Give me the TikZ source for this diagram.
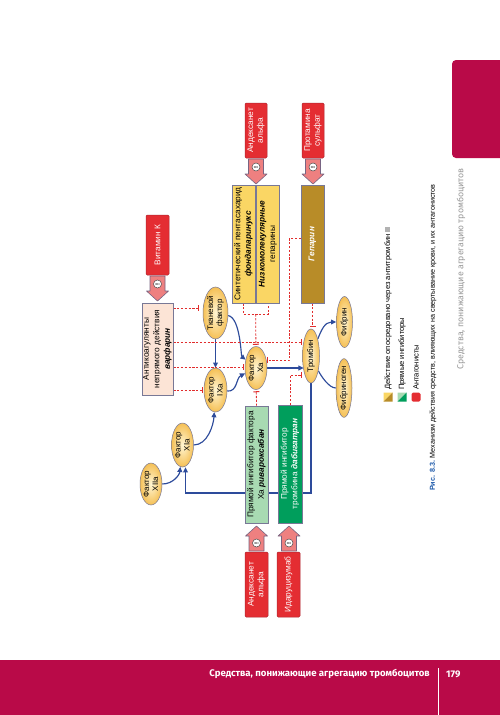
\documentclass[tikz,border=0pt]{standalone}
\usepackage{fontspec}
\setmainfont{Liberation Sans}
\newfontfamily\fira{Fira Sans}
\usetikzlibrary{arrows.meta,calc,shapes.geometric}
\pgfdeclarelayer{bg}
\pgfsetlayers{bg,main}
\definecolor{redbox}{RGB}{228,45,50}
\definecolor{redboxd}{RGB}{175,40,50}
\definecolor{arrfill}{RGB}{238,128,128}
\definecolor{arrdraw}{RGB}{120,100,130}
\definecolor{yel}{RGB}{250,214,100}
\definecolor{gold}{RGB}{184,140,40}
\definecolor{peach}{RGB}{252,228,214}
\definecolor{lgreen}{RGB}{168,218,178}
\definecolor{dgreen}{RGB}{0,158,92}
\definecolor{bordr}{RGB}{120,120,150}
\definecolor{ellin}{RGB}{255,246,212}
\definecolor{ellout}{RGB}{245,192,85}
\definecolor{flowc}{RGB}{45,75,155}
\definecolor{inhc}{RGB}{225,45,45}
\definecolor{crimson}{RGB}{185,10,72}
\definecolor{capblue}{RGB}{30,90,170}
\tikzset{
  blk/.pic={
    \draw[fill=arrfill, draw=arrdraw, line width=0.6pt, line join=round]
      (-7.5,25) -- (7.5,25) -- (7.5,10) -- (11,10) -- (0,0) -- (-11,10) -- (-7.5,10) -- cycle;
    \node[circle, draw=black!70, fill=white, line width=0.5pt, minimum size=8pt,
          inner sep=0pt, rotate=90, font=\fontsize{6}{6}\selectfont\bfseries] at (0,17) {!};
  }
}
\begin{document}
\begin{tikzpicture}[x=1pt,y=1pt,
  rot/.style={rotate=90},
  redb/.style={rot, draw=redboxd, fill=redbox, text=white, rounded corners=1.2pt,
    line width=0.5pt, minimum width=55pt, minimum height=22pt, inner sep=1pt,
    align=center, font=\fontsize{8.3}{9.6}\selectfont},
  dbox/.style={rot, draw=bordr, line width=0.6pt, inner sep=1pt, align=center,
    font=\fontsize{8.3}{10.5}\selectfont},
  fac/.style={rot, ellipse, draw=bordr, line width=0.5pt, inner color=ellin,
    outer color=ellout, inner sep=-1.5pt, align=center, font=\fontsize{8}{9}\selectfont},
  flow/.style={draw=flowc, line width=1.15pt, -{Triangle[length=5.2pt,width=4.8pt]}},
  inhl/.style={draw=inhc, line width=0.8pt, dash pattern=on 2.2pt off 1.6pt},
  inh/.style={inhl, -{Bar[width=6pt,line width=1pt]}},
  legt/.style={rot, anchor=west, inner sep=0pt, font=\fontsize{7.6}{9}\selectfont}
]
\begin{pgfonlayer}{bg}
\fill[white] (0,0) rectangle (500,-715);
\end{pgfonlayer}
\useasboundingbox (0,0) rectangle (500,-715);

% ---------- page furniture ----------
\fill[crimson, rounded corners=4pt] (452,-60) rectangle (510,-158);
\fill[crimson] (0,-660) rectangle (500,-715);
\node[anchor=east, text=white, inner sep=0pt, font=\fira\bfseries\fontsize{9.6}{10}\selectfont] (foot) at (430,-674) {Средства, понижающие агрегацию тромбоцитов};
\draw[white, line width=0.6pt] (438,-668) -- (438,-715);
\node[anchor=west, text=white, inner sep=0pt, font=\fira\bfseries\fontsize{9.6}{10}\selectfont] (pg) at (446,-674) {179};
\node[rot, anchor=west, inner sep=0pt, text=black!40, font=\fira\fontsize{8.8}{10}\selectfont] (hdr) at (461,-370) {Средства, понижающие агрегацию тромбоцитов};

% ---------- top antagonists ----------
\node[redb] (rA) at (256,-130.5) {Андексанет\\альфа};
\node[redb] (rP) at (313,-130.5) {Протамина\\сульфат};
\node[redb, minimum width=60pt, minimum height=23pt] (VK) at (157.5,-245) {Витамин К};
\pic at (256,-184) {blk};
\pic at (313,-184) {blk};
\pic at (157.5,-301) {blk};

% ---------- drug boxes ----------
\node[dbox, fill=yel, minimum width=118pt, minimum height=23pt] (F) at (243.5,-244)
  {Синтетический пентасахарид\\\textbf{\textit{фондапаринукс}}};
\node[dbox, fill=yel, minimum width=118pt, minimum height=23pt] (L) at (268,-244)
  {\bfseries\itshape Низкомолекулярные\\гепарины};
\node[dbox, fill=gold, text=white, minimum width=118pt, minimum height=23pt] (hep) at (312.5,-244)
  {\bfseries\itshape Гепарин};
\node[dbox, fill=peach, minimum width=92pt, minimum height=31pt] (W) at (157.5,-349)
  {Антикоагулянты\\непрямого действия\\\textbf{\textit{варфарин}}};
\node[dbox, fill=lgreen, minimum width=117pt, minimum height=23pt] (gR) at (256.5,-464.5)
  {Прямой ингибитор фактора\\Xa \textbf{\textit{ривароксабан}}};
\node[dbox, fill=dgreen, text=white, minimum width=118pt, minimum height=24pt] (gD) at (290,-464)
  {Прямой ингибитор\\тромбина \textbf{\textit{дабигатран}}};

% ---------- factors ----------
\node[fac, minimum width=52pt, minimum height=25pt] (TF) at (215.5,-313) {Тканевой\\фактор};
\node[fac, minimum width=44pt, minimum height=23pt] (IXa) at (215.5,-390) {Фактор\\IXa};
\node[fac, minimum width=43pt, minimum height=22pt] (Xa) at (256,-368) {Фактор\\Xa};
\node[fac, minimum width=54pt, minimum height=17pt] (Tr) at (311,-356) {Тромбин};
\node[fac, minimum width=51pt, minimum height=16pt] (Fb) at (344.5,-322) {Фибрин};
\node[fac, minimum width=53pt, minimum height=16pt] (Fg) at (344,-388) {Фибриноген};
\node[fac, minimum width=44pt, minimum height=22pt] (XIa) at (182.5,-445) {Фактор\\XIa};
\node[fac, minimum width=42pt, minimum height=22pt] (XIIa) at (151,-484) {Фактор\\XIIa};

% ---------- bottom antagonists ----------
\pic[rotate=180] at (256.5,-526) {blk};
\pic[rotate=180] at (289,-526) {blk};
\node[redb, minimum width=65pt, minimum height=23pt] (rA2) at (256.5,-584.5) {Андексанет\\альфа};
\node[redb, minimum width=65pt, minimum height=23pt] (rI) at (288.5,-584.5) {Идаруцизумаб};

\coordinate (fb) at (0,-493);

\begin{pgfonlayer}{bg}
% blue cascade
\draw[flow] (XIIa) .. controls +(22,0) and +(-3,-30) .. (XIa);
\draw[flow] (XIa) .. controls +(25,0) and +(-2,-35) .. (IXa);
\draw[flow] (IXa) .. controls +(22,-2) and +(-20,-10) .. (Xa);
\draw[flow] (TF) -- (IXa);
\draw[flow] (TF) .. controls +(25,-5) and +(-15,12) .. (Xa);
\draw[flow, shorten >=7.4pt] (Xa) -- (Xa -| Tr);
\draw[flow] (Tr) .. controls +(10,25) and +(-20,0) .. (Fb);
\draw[draw=flowc, line width=1.15pt] (Fg) .. controls +(-15,0) and +(10,-20) .. (Tr);
\draw[flow] (Tr) -- (Tr |- fb) -| ([xshift=3pt]XIa.west);
% red inhibition
\draw[inh, shorten >=4pt] (W.south |- 0,-308) -- (TF.north |- 0,-308);
\draw[inh] (W.south |- 0,-342) -- (Tr.north |- 0,-342);
\draw[inh, shorten >=1pt] (W.south |- 0,-367) -- (Xa.north |- 0,-367);
\draw[inh, shorten >=1pt] (W.south |- IXa.north) -- (IXa.north);
\draw[inhl] (F.west) -- ++(0,-11) -| (L.west);
\draw[inh, shorten >=1.5pt] ($(F.west)!.5!(L.west)+(0,-11)$) -- (Xa);
\draw[inh] ([yshift=6pt]hep.north) -- ++(-11,0) |- ([yshift=8pt]Xa.south);
\draw[inh, shorten >=1.5pt] (hep.west) -- (hep.west |- Tr.east);
\draw[inh, shorten >=1.5pt] (gR.east) -- (Xa);
\draw[inh] (gD.east) |- ([yshift=-19pt]Tr.north);
\end{pgfonlayer}

% ---------- legend ----------
\fill[yel] (383.5,-392.5) -- (392.5,-392.5) -- (383.5,-401.5) -- cycle;
\fill[gold] (392.5,-392.5) -- (392.5,-401.5) -- (383.5,-401.5) -- cycle;
\fill[lgreen] (397.5,-392.5) -- (406.5,-392.5) -- (397.5,-401.5) -- cycle;
\fill[dgreen] (406.5,-392.5) -- (406.5,-401.5) -- (397.5,-401.5) -- cycle;
\fill[redbox, rounded corners=1.5pt] (411.5,-392.5) rectangle (420.5,-401.5);
\node[legt] (lg1) at (388,-390) {Действие опосредовано через антитромбин \textcolor{black!30}{\rule{5pt}{5pt}}};
\node[legt] (lg2) at (402,-390) {Прямые ингибиторы};
\node[legt] (lg3) at (416,-390) {Антагонисты};
\node[legt, font=\fontsize{7.2}{9}\selectfont] (cap) at (433,-491)
  {\textcolor{capblue}{\textbf{Рис. 8.3.}} Механизм действия средств, влияющих на свертывание крови, и их антагонистов};
\end{tikzpicture}
\end{document}
